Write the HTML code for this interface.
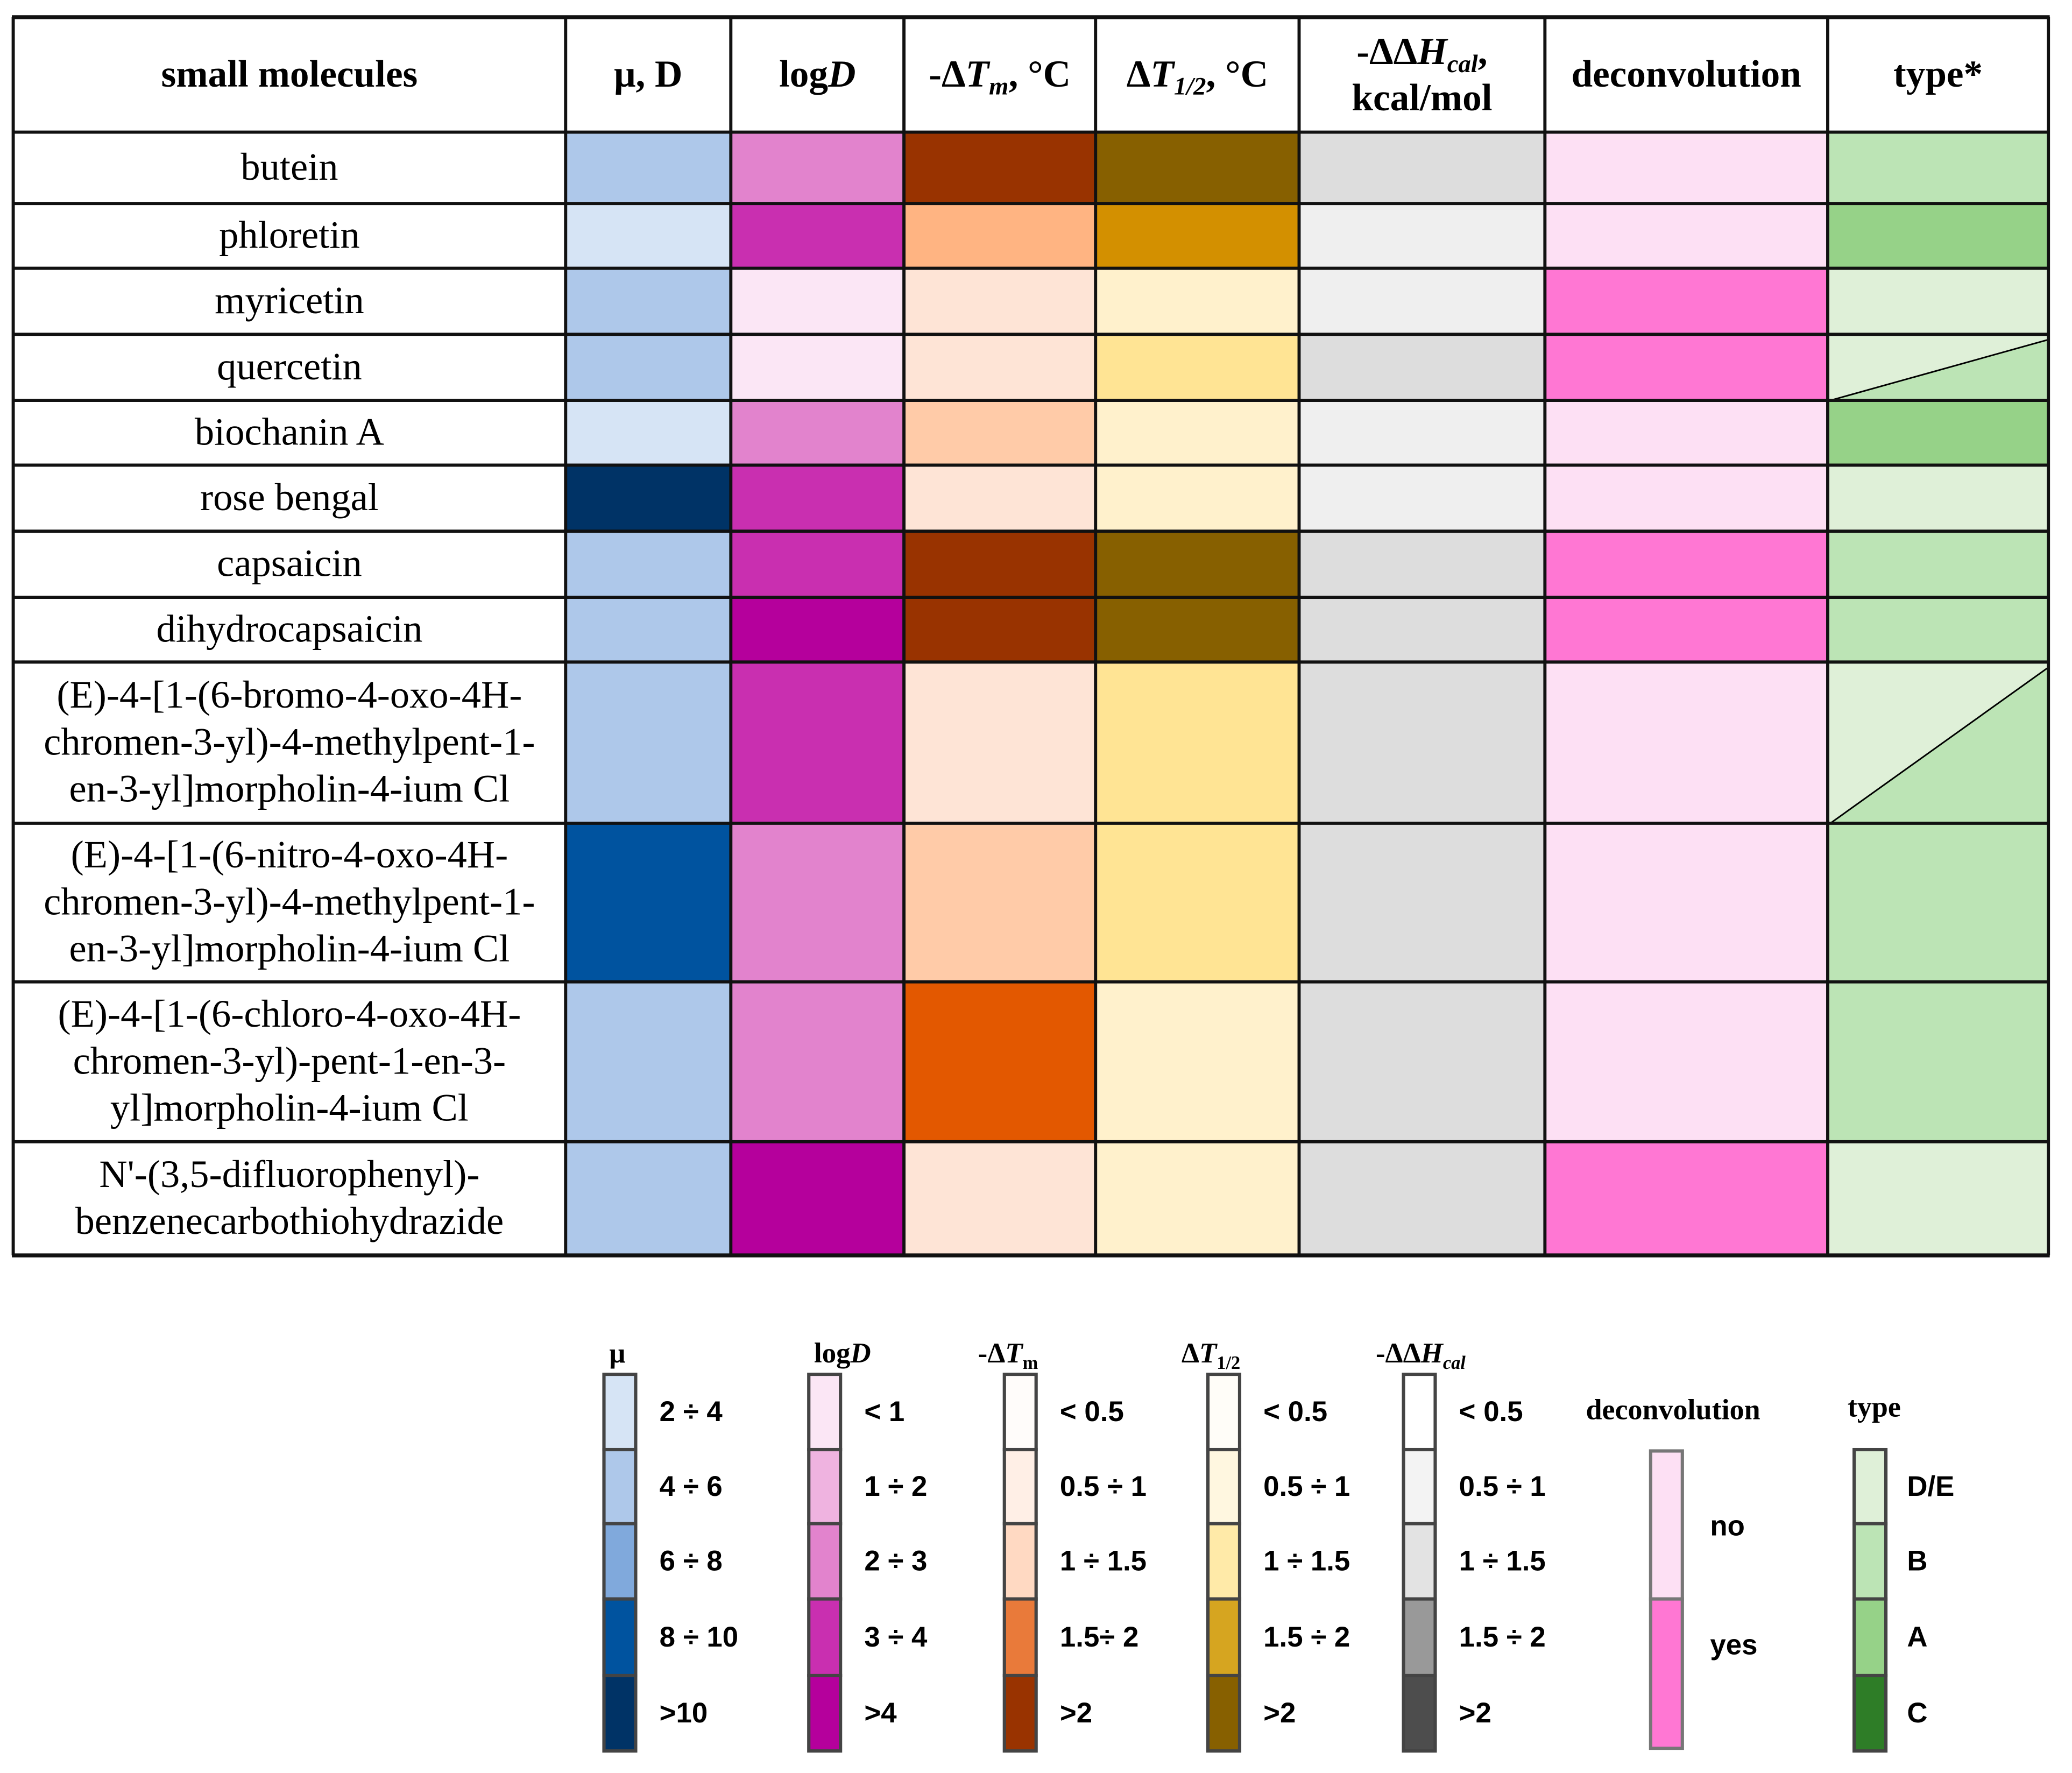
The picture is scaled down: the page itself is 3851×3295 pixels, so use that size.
<!DOCTYPE html>
<html><head><meta charset="utf-8"><style>
html,body{margin:0;padding:0;background:#fff;}
svg{display:block;}
.s{font-family:"Liberation Serif",serif;}
.a{font-family:"Liberation Sans",sans-serif;font-weight:bold;}
</style></head><body>
<svg width="3851" height="3295" viewBox="0 0 1560 1335" preserveAspectRatio="none" xmlns="http://www.w3.org/2000/svg"><g id="chart" transform="scale(0.995)"></g></svg>
<script>
const colX=[10,428,553,684,829,983,1169,1383,1550];
const rowY=[13,100,154,203,253,303,352,402,452,501,623,743,864,950];
const headers=[["small molecules"],["μ, D"],["logD"],["-ΔTm, °C"],["ΔT1/2, °C"],["-ΔΔHcal,","kcal/mol"],["deconvolution"],["type*"]];
const names=[["butein"],["phloretin"],["myricetin"],["quercetin"],["biochanin A"],["rose bengal"],["capsaicin"],["dihydrocapsaicin"],
["(E)-4-[1-(6-bromo-4-oxo-4H-","chromen-3-yl)-4-methylpent-1-","en-3-yl]morpholin-4-ium Cl"],
["(E)-4-[1-(6-nitro-4-oxo-4H-","chromen-3-yl)-4-methylpent-1-","en-3-yl]morpholin-4-ium Cl"],
["(E)-4-[1-(6-chloro-4-oxo-4H-","chromen-3-yl)-pent-1-en-3-","yl]morpholin-4-ium Cl"],
["N'-(3,5-difluorophenyl)-","benzenecarbothiohydrazide"]];
const muCol=["#aec8ea","#d6e4f5","#aec8ea","#aec8ea","#d6e4f5","#003366","#aec8ea","#aec8ea","#aec8ea","#00539f","#aec8ea","#aec8ea"];
const logDCol=["#e283cd","#c92fb0","#fbe6f5","#fbe6f5","#e283cd","#c92fb0","#c92fb0","#b5009c","#c92fb0","#e283cd","#e283cd","#b5009c"];
const tmCol=["#993300","#ffb482","#fee4d6","#fee4d6","#ffcba8","#fee4d6","#993300","#993300","#fee4d6","#ffcba8","#e35800","#fee4d6"];
const thCol=["#876000","#d39000","#fff1cc","#ffe494","#fff1cc","#fff1cc","#876000","#876000","#ffe494","#ffe494","#fff1cc","#fff1cc"];
const hCol=["#dddddd","#efefef","#efefef","#dddddd","#efefef","#efefef","#dddddd","#dddddd","#dddddd","#dddddd","#dddddd","#dddddd"];
const decCol=["#fde0f4","#fde0f4","#ff77d3","#ff77d3","#fde0f4","#fde0f4","#ff77d3","#ff77d3","#fde0f4","#fde0f4","#fde0f4","#ff77d3"];
const typeCol=["B","A","DE","split","A","DE","B","B","split","B","B","DE"];
const typeMap={DE:"#dff0d8",B:"#bce4b5",A:"#96d288",C:"#2e7d27"};

const legX=[457,612,760,914,1062];
const legTitles=["μ","logD","-ΔTm","ΔT1/2","-ΔΔHcal"];
const legLabels=[["2 ÷ 4","4 ÷ 6","6 ÷ 8","8 ÷ 10",">10"],["< 1","1 ÷ 2","2 ÷ 3","3 ÷ 4",">4"],["< 0.5","0.5 ÷ 1","1 ÷ 1.5","1.5÷ 2",">2"],["< 0.5","0.5 ÷ 1","1 ÷ 1.5","1.5 ÷ 2",">2"],["< 0.5","0.5 ÷ 1","1 ÷ 1.5","1.5 ÷ 2",">2"]];
const legColors=[["#d6e4f5","#aec8ea","#80a9dc","#00539f","#003366"],["#fbe6f5","#efb3e0","#e283cd","#c92fb0","#b5009c"],["#fffcfa","#ffefe6","#ffd9c2","#e97a3a","#993300"],["#fffdf8","#fff7e0","#ffeaa8","#d6a520","#876000"],["#ffffff","#f3f3f3","#e3e3e3","#999999","#4d4d4d"]];
const segY=[1040,1097,1153,1210,1268,1325];

const svg=document.getElementById('chart');
const NS="http://www.w3.org/2000/svg";
function mk(tag,attrs,parent){const e=document.createElementNS(NS,tag);for(const k in attrs)e.setAttribute(k,attrs[k]);(parent||svg).appendChild(e);return e;}

const hdrY=(rowY[0]+rowY[1])/2;
headers.forEach((h,i)=>{
  const cx=(colX[i]+colX[i+1])/2;
  const t=mk('text',{x:cx,y:hdrY+9,'text-anchor':'middle','font-size':29,'font-weight':'bold',class:'s'});
  
  
  if(i===2){t.innerHTML='log<tspan font-style="italic">D</tspan>';}
  else if(i===3){t.innerHTML='-Δ<tspan font-style="italic">T</tspan><tspan font-style="italic" font-size="19" dy="6">m</tspan><tspan dy="-6">, °C</tspan>';}
  else if(i===4){t.innerHTML='Δ<tspan font-style="italic">T</tspan><tspan font-style="italic" font-size="19" dy="6">1/2</tspan><tspan dy="-6">, °C</tspan>';}
  else if(i===5){t.setAttribute('y',hdrY-8);t.innerHTML='-ΔΔ<tspan font-style="italic">H</tspan><tspan font-style="italic" font-size="19" dy="6">cal</tspan><tspan dy="-6">,</tspan>';
    const t2=mk('text',{x:cx,y:hdrY+27,'text-anchor':'middle','font-size':29,'font-weight':'bold',class:'s'});t2.textContent='kcal/mol';
    }
  else t.textContent=h[0];
});

const cols=[muCol,logDCol,tmCol,thCol,hCol,decCol];
names.forEach((nm,r)=>{
  const y0=rowY[r+1],y1=rowY[r+2];
  cols.forEach((c,ci)=>{
    const rc=mk('rect',{x:colX[ci+1],y:y0,width:colX[ci+2]-colX[ci+1],height:y1-y0,fill:c[r]});
    
    
  });
  const tx0=colX[7],tx1=colX[8];
  if(typeCol[r]==='split'){
    const a=mk('rect',{x:tx0,y:y0,width:tx1-tx0,height:y1-y0,fill:typeMap.DE});
    
    const p=mk('polygon',{points:`${tx0+2},${y1} ${tx1},${y0+4} ${tx1},${y1}`,fill:typeMap.B,stroke:'#000','stroke-width':1.2});
    
  } else {
    const a=mk('rect',{x:tx0,y:y0,width:tx1-tx0,height:y1-y0,fill:typeMap[typeCol[r]]});
    
  }
  const cx=(colX[0]+colX[1])/2, cy=(y0+y1)/2, lh=35.5;
  nm.forEach((line,li)=>{
    const t=mk('text',{x:cx,y:cy+9+(li-(nm.length-1)/2)*lh,'text-anchor':'middle','font-size':29.5,class:'s'});
    t.textContent=line;
    
    
  });
});
rowY.forEach((y,i)=>{const l=mk('line',{x1:colX[0]-1,x2:colX[8]+1,y1:y,y2:y,stroke:'#111','stroke-width':(i===0||i===rowY.length-1)?3:2.4});
  });
colX.forEach((x,i)=>{const l=mk('line',{x1:x,x2:x,y1:rowY[0],y2:rowY[rowY.length-1],stroke:'#111','stroke-width':2.4});
  });

legX.forEach((lx,li)=>{
  const tt=mk('text',{x:lx+5,y:1031,'font-size':21.5,'font-weight':'bold',class:'s'});
  
  if(li===0){tt.setAttribute('x',lx+4);tt.textContent='μ';}
  else if(li===1){tt.setAttribute('x',lx+4);tt.innerHTML='log<tspan font-style="italic">D</tspan>';}
  else if(li===2){tt.setAttribute('x',lx-20);tt.innerHTML='-Δ<tspan font-style="italic">T</tspan><tspan font-size="14" dy="5">m</tspan>';}
  else if(li===3){tt.setAttribute('x',lx-20);tt.innerHTML='Δ<tspan font-style="italic">T</tspan><tspan font-size="14" dy="5">1/2</tspan>';}
  else {tt.setAttribute('x',lx-21);tt.innerHTML='-ΔΔ<tspan font-style="italic">H</tspan><tspan font-style="italic" font-size="14" dy="5">cal</tspan>';}
  legColors[li].forEach((c,si)=>{
    const r=mk('rect',{x:lx,y:segY[si],width:24,height:segY[si+1]-segY[si],fill:c,stroke:'#444','stroke-width':2.5});
    
    const t=mk('text',{x:lx+42,y:(segY[si]+segY[si+1])/2+7,'font-size':21.5,class:'a'});
    t.textContent=legLabels[li][si];
    
  });
});
const dt=mk('text',{x:1200,y:1074,'font-size':22,'font-weight':'bold',class:'s'});dt.textContent='deconvolution';

const decLeg=[["#fde0f4","no",1098,1210],["#ff77d3","yes",1210,1323]];
decLeg.forEach(d=>{
  const r=mk('rect',{x:1249,y:d[2],width:24,height:d[3]-d[2],fill:d[0],stroke:'#777','stroke-width':2.5});
  
  const t=mk('text',{x:1294,y:d[1]==='no'?1162:1252,'font-size':21.5,class:'a'});t.textContent=d[1];
  
});
const ty=mk('text',{x:1398,y:1072,'font-size':22,'font-weight':'bold',class:'s'});ty.textContent='type';

const typeLeg=[["DE","D/E"],["B","B"],["A","A"],["C","C"]];
typeLeg.forEach((d,i)=>{
  const r=mk('rect',{x:1403,y:segY[i+1],width:24,height:segY[i+2]-segY[i+1],fill:typeMap[d[0]],stroke:'#444','stroke-width':2.5});
  
  const t=mk('text',{x:1443,y:(segY[i+1]+segY[i+2])/2+7,'font-size':21.5,class:'a'});t.textContent=d[1];
  
});
</script>
</body></html>
